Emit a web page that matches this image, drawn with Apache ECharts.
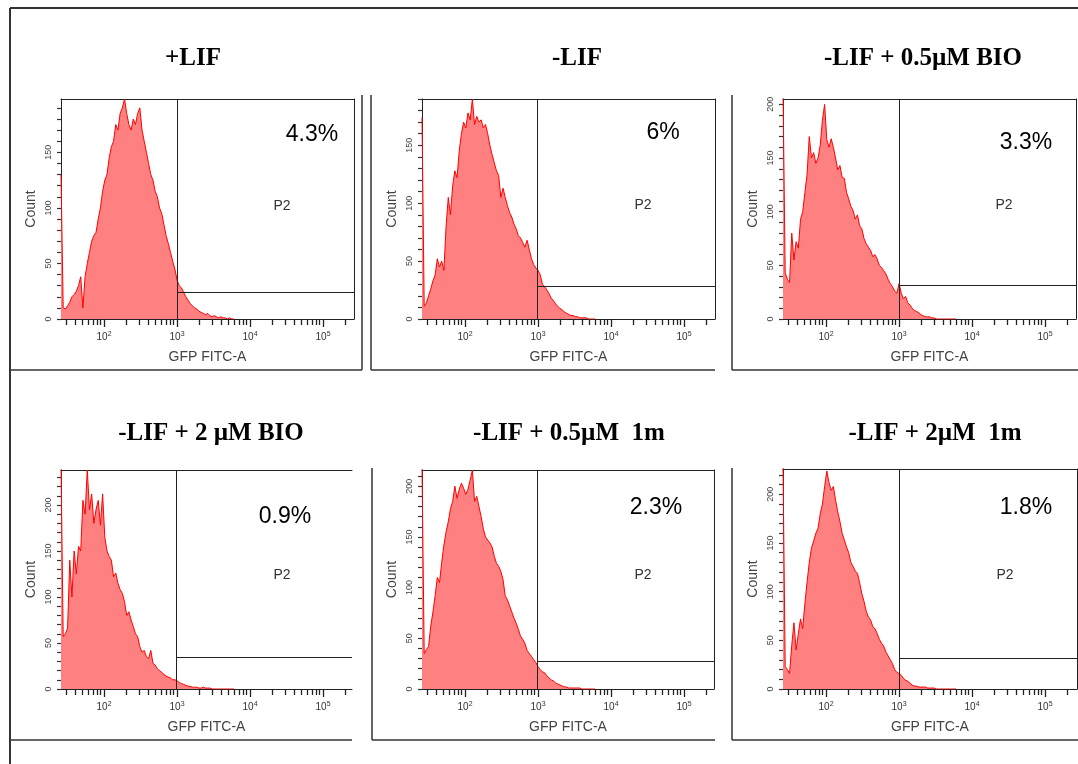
<!DOCTYPE html>
<html>
<head>
<meta charset="utf-8">
<title>GFP FITC-A histograms</title>
<script src="https://cdn.jsdelivr.net/npm/echarts@6/dist/echarts.min.js"></script>
<style>
  html, body { margin: 0; padding: 0; background: #fff; }
  #chart { width: 1078px; height: 764px; }
</style>
</head>
<body>
<div id="chart"></div>
<script>
// histogram bins: log10(GFP FITC-A), first bin at 10^1.41, 0.03 decade wide
const binStart = 1.41;
const binStep = 0.03;

const panelTitles = ['+LIF', '-LIF', '-LIF + 0.5µM BIO', '-LIF + 2 µM BIO', '-LIF + 0.5µM  1m', '-LIF + 2µM  1m'];
const gfpPercent = ['4.3%', '6%', '3.3%', '0.9%', '2.3%', '1.8%'];
const gateName = 'P2';

// counts
const countsLif = [130, 10, 9, 12, 15, 20, 22, 25, 30, 38, 10, 38, 50, 60, 70, 75, 78, 90, 100, 115, 125, 130, 145, 155, 160, 175, 170, 185, 190, 198, 185, 175, 170, 180, 175, 185, 190, 170, 160, 150, 140, 130, 125, 115, 110, 100, 95, 85, 75, 68, 60, 52, 45, 35, 30, 28, 24, 20, 17, 14, 12, 10, 9, 7, 6, 5, 4, 5, 3, 2, 3, 2, 1, 2, 1, 1, 0, 1, 0, 0];
const countsNoLif = [174, 11, 14, 20, 26, 33, 38, 52, 45, 50, 42, 80, 105, 90, 115, 128, 122, 145, 160, 170, 165, 178, 172, 190, 168, 175, 170, 172, 165, 168, 160, 150, 142, 135, 128, 124, 105, 113, 105, 98, 92, 88, 82, 78, 72, 70, 66, 62, 68, 60, 52, 47, 44, 42, 38, 30, 28, 25, 22, 18, 16, 13, 11, 9, 8, 6, 5, 4, 3, 3, 2, 2, 1, 1, 1, 1, 0, 0, 0, 0];
const countsBio05 = [215, 43, 37, 34, 80, 55, 72, 66, 93, 100, 118, 135, 170, 150, 155, 145, 150, 162, 185, 200, 167, 160, 168, 160, 150, 139, 143, 132, 131, 118, 112, 105, 101, 93, 97, 87, 84, 75, 70, 67, 64, 58, 60, 56, 50, 48, 45, 42, 37, 33, 30, 26, 24, 33, 24, 19, 21, 15, 13, 10, 8, 7, 6, 4, 3, 2, 2, 2, 1, 1, 0, 0, 0, 0, 0, 0, 0, 0, 0, 0];
const countsBio2 = [245, 57, 60, 66, 140, 100, 150, 125, 155, 150, 205, 190, 238, 195, 212, 180, 195, 205, 178, 212, 165, 150, 144, 140, 122, 126, 115, 108, 104, 95, 80, 84, 75, 68, 60, 57, 46, 40, 42, 35, 33, 42, 28, 26, 22, 20, 18, 16, 14, 13, 12, 10, 10, 9, 7, 6, 5, 4, 3, 3, 2, 2, 2, 1, 1, 2, 1, 1, 1, 0, 0, 0, 0, 0, 0, 0, 0, 0, 0, 0];
const counts1m05 = [220, 35, 39, 42, 62, 76, 92, 110, 105, 125, 142, 155, 165, 178, 185, 200, 188, 197, 203, 198, 192, 197, 206, 216, 185, 190, 180, 170, 158, 150, 147, 144, 140, 131, 124, 121, 116, 108, 92, 88, 82, 76, 70, 65, 59, 52, 49, 45, 38, 35, 32, 29, 26, 22, 19, 17, 16, 13, 11, 9, 8, 6, 5, 4, 3, 2, 2, 1, 1, 1, 1, 1, 1, 0, 0, 0, 0, 0, 0, 0];
const counts1m2 = [230, 23, 20, 16, 45, 68, 40, 57, 72, 62, 88, 110, 130, 145, 152, 160, 165, 180, 190, 208, 224, 212, 204, 208, 194, 182, 172, 160, 153, 146, 140, 130, 126, 121, 119, 109, 98, 90, 80, 74, 71, 64, 62, 57, 51, 47, 44, 38, 34, 30, 26, 20, 17, 16, 14, 11, 9, 8, 6, 4, 3, 3, 2, 2, 2, 2, 1, 1, 1, 1, 0, 0, 0, 0, 0, 0, 0, 0, 0, 0];
const allCounts = [countsLif, countsNoLif, countsBio05, countsBio2, counts1m05, counts1m2];

// y axis top of each plot (count) and P2 gate: lower edge (log10) and bar height (count)
const countMax = [198, 190, 205, 238, 216, 226];
const gateLog = [3.0, 2.99, 3.0, 2.99, 2.99, 3.0];
const gateCount = [24, 28, 31, 35, 27, 32];

// axis ticks
const decadeLabels = [2, 3, 4, 5];
const tickMultipliers = [2, 3, 4, 5, 6, 7, 8, 9];
const countLabels = [0, 50, 100, 150, 200];

// layout
const pxPerDecade = 73;
const boxes = [
  { left: 61, top: 99, width: 293, height: 220, rightLine: true },
  { left: 422, top: 99, width: 293, height: 220, rightLine: true },
  { left: 783, top: 99, width: 293, height: 220, rightLine: true },
  { left: 61, top: 470, width: 291, height: 219, rightLine: false },
  { left: 422, top: 470, width: 292, height: 219, rightLine: true },
  { left: 783, top: 469, width: 294, height: 220, rightLine: true }
];
const percentPos = [[312, 135], [663, 133], [1026, 143], [285, 517], [656, 508], [1026, 508]];
const gateNamePos = [[282, 206], [643, 205], [1004, 205], [282, 575], [643, 575], [1005, 575]];
const titlePos = [[193, 59], [577, 59], [923, 59], [211, 434], [569, 434], [935, 434]];

const AXIS = '#222';

// minor ticks 20..90, 200..900 ... on the log axis, decade ticks kept apart (longer)
let minorTicks = [];
for (let e = 1; e <= 5; e++) {
  tickMultipliers.forEach(m => {
    const v = Math.log10(m * Math.pow(10, e));
    if (v >= binStart && v <= 5.42) minorTicks.push(v);
  });
}

const grids = [], xAxes = [], yAxes = [], series = [];

boxes.forEach((b, p) => {
  const minLog = binStart;
  const maxLog = binStart + b.width / pxPerDecade;
  const yMax = countMax[p];

  grids.push({ left: b.left, top: b.top, width: b.width, height: b.height, containLabel: false });

  xAxes.push({
    gridIndex: p, type: 'value', min: minLog, max: maxLog, position: 'bottom',
    name: 'GFP FITC-A', nameLocation: 'middle', nameGap: 31,
    nameTextStyle: { fontFamily: 'Liberation Sans', fontSize: 14, color: '#444' },
    axisLine: { show: true, onZero: false, lineStyle: { color: AXIS, width: 1 } },
    axisTick: { show: true, length: 8, inside: false, customValues: decadeLabels, lineStyle: { color: AXIS, width: 1.3 } },
    axisLabel: {
      show: true, margin: 12, customValues: decadeLabels,
      formatter: v => '{b|10}{s|' + Math.round(v) + '}',
      rich: {
        b: { fontFamily: 'Liberation Sans', fontSize: 10, color: '#333' },
        s: { fontFamily: 'Liberation Sans', fontSize: 7, color: '#333', verticalAlign: 'top', padding: [0, 0, 6, 0] }
      }
    },
    splitLine: { show: false }
  });
  xAxes.push({
    gridIndex: p, type: 'value', min: minLog, max: maxLog, position: 'bottom',
    axisLine: { show: false, onZero: false },
    axisTick: { show: true, length: 6, inside: false, customValues: minorTicks, lineStyle: { color: AXIS, width: 1.3 } },
    axisLabel: { show: false }, splitLine: { show: false }
  });
  xAxes.push({
    gridIndex: p, type: 'value', min: minLog, max: maxLog, position: 'top',
    axisLine: { show: true, onZero: false, lineStyle: { color: AXIS, width: 1 } },
    axisTick: { show: false }, axisLabel: { show: false }, splitLine: { show: false }
  });

  let yTicks = [];
  for (let c = 0; c <= yMax; c += 10) yTicks.push(c);
  yAxes.push({
    gridIndex: p, type: 'value', min: 0, max: yMax, position: 'left',
    name: 'Count', nameLocation: 'middle', nameGap: 23, nameRotate: 90,
    nameTextStyle: { fontFamily: 'Liberation Sans', fontSize: 14, color: '#444' },
    axisLine: { show: true, onZero: false, lineStyle: { color: AXIS, width: 1 } },
    axisTick: { show: true, length: 4, customValues: yTicks, lineStyle: { color: '#333', width: 1.2 } },
    axisLabel: {
      show: true, rotate: 90, margin: 8, customValues: countLabels.filter(c => c <= yMax),
      fontFamily: 'Liberation Sans', fontSize: 9, color: '#444'
    },
    splitLine: { show: false }
  });
  yAxes.push({
    gridIndex: p, type: 'value', min: 0, max: yMax, position: 'right',
    axisLine: { show: b.rightLine, onZero: false, lineStyle: { color: AXIS, width: 1 } },
    axisTick: { show: false }, axisLabel: { show: false }, splitLine: { show: false }
  });

  const pts = allCounts[p].map((c, i) => [binStart + i * binStep, c]);
  series.push({
    type: 'line', xAxisIndex: 3 * p, yAxisIndex: 2 * p, data: pts,
    showSymbol: false, smooth: false, clip: true, animation: false,
    lineStyle: { color: '#ff0000', width: 1 },
    areaStyle: { color: '#ff8080', opacity: 1 },
    markLine: {
      silent: true, symbol: 'none', animation: false,
      label: { show: false },
      lineStyle: { color: '#222', width: 1, type: 'solid' },
      data: [
        [{ coord: [gateLog[p], 0] }, { coord: [gateLog[p], yMax] }],
        [{ coord: [gateLog[p], gateCount[p]] }, { coord: [maxLog, gateCount[p]] }]
      ]
    }
  });
});

// panel frames and outer border of the figure
const frameLines = [
  [10, 8, 1078, 8, 2], [10, 8, 10, 764, 2],
  [362, 95, 362, 370, 1.5], [10, 370, 362, 370, 1.5],
  [371, 95, 371, 370, 1.5], [371, 370, 715, 370, 1.5],
  [732, 95, 732, 370, 1.5], [732, 370, 1078, 370, 1.5],
  [10, 740, 352, 740, 1.5],
  [372, 468, 372, 740, 1.5], [372, 740, 715, 740, 1.5],
  [732, 468, 732, 740, 1.5], [732, 740, 1078, 740, 1.5]
];

const graphics = [];
frameLines.forEach(l => {
  graphics.push({
    type: 'line', silent: true,
    shape: { x1: l[0], y1: l[1], x2: l[2], y2: l[3] },
    style: { stroke: '#333', lineWidth: l[4] }
  });
});
panelTitles.forEach((t, p) => {
  graphics.push({
    type: 'text', silent: true, x: titlePos[p][0], y: titlePos[p][1],
    style: { text: t, font: 'bold 25px "Liberation Serif"', fill: '#000', align: 'center', verticalAlign: 'middle' }
  });
  graphics.push({
    type: 'text', silent: true, z: 10, x: percentPos[p][0], y: percentPos[p][1],
    style: { text: gfpPercent[p], font: '23px "Liberation Sans"', fill: '#000', align: 'center', verticalAlign: 'middle' }
  });
  graphics.push({
    type: 'text', silent: true, z: 10, x: gateNamePos[p][0], y: gateNamePos[p][1],
    style: { text: gateName, font: '14px "Liberation Sans"', fill: '#333', align: 'center', verticalAlign: 'middle' }
  });
});

const chart = echarts.init(document.getElementById('chart'));
chart.setOption({
  animation: false,
  backgroundColor: '#fff',
  grid: grids,
  xAxis: xAxes,
  yAxis: yAxes,
  series: series,
  graphic: graphics
});
</script>
</body>
</html>
